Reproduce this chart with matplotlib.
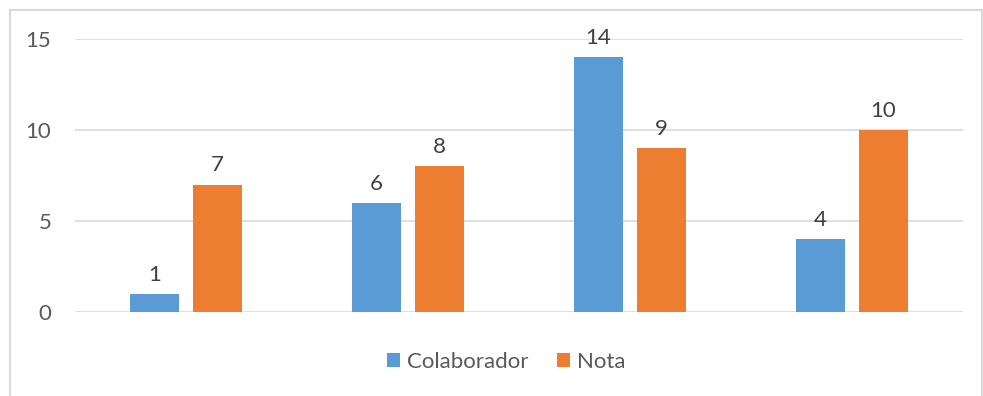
import matplotlib.pyplot as plt
import numpy as np
from matplotlib.patches import Rectangle

plt.rcParams['font.family'] = ['Lato', 'DejaVu Sans']

# Data
categories = ['', '', '', '']
colaborador = [1, 6, 14, 4]
nota = [7, 8, 9, 10]
yticks = [0, 5, 10, 15]

blue = '#5b9bd5'
orange = '#ed7d31'
text_col = '#595959'

fig = plt.figure(figsize=(9.83, 3.96), dpi=100)
ax = fig.add_axes([75 / 983, 1 - 312 / 396, (963 - 75) / 983, (312 - 39) / 396])

x = np.arange(len(categories))
w = 0.225
off = 0.142
b1 = ax.bar(x - off, colaborador, w, color=blue, label='Colaborador')
b2 = ax.bar(x + off, nota, w, color=orange, label='Nota')

for bars, vals in [(b1, colaborador), (b2, nota)]:
    for bar, v in zip(bars, vals):
        ax.text(bar.get_x() + bar.get_width() / 2, v + 0.5, str(v),
                ha='center', va='bottom', fontsize=16, color='#404040')

ax.set_xlim(-0.5, len(categories) - 0.5)
ax.set_ylim(0, 15)
ax.set_yticks(yticks)
ax.set_xticks([])
ax.grid(axis='y', color='#d9d9d9', linewidth=1.2)
ax.set_axisbelow(True)
for s in ax.spines.values():
    s.set_visible(False)
ax.tick_params(axis='y', length=0, pad=17, labelsize=16, labelcolor=text_col)

fig.legend(handles=[b1, b2], loc='center', bbox_to_anchor=(506 / 983, 1 - 362 / 396),
           ncol=2, frameon=False, fontsize=16, handlelength=0.6, handleheight=0.6,
           handletextpad=0.3, columnspacing=1.3, labelcolor=text_col)

# chart border
fig.patches.append(Rectangle((10 / 983, -0.05), 972 / 983, 1 - 10 / 396 + 0.05,
                             transform=fig.transFigure, fill=False,
                             edgecolor='#d9d9d9', linewidth=1.5))

fig.savefig('out.png', dpi=100)
